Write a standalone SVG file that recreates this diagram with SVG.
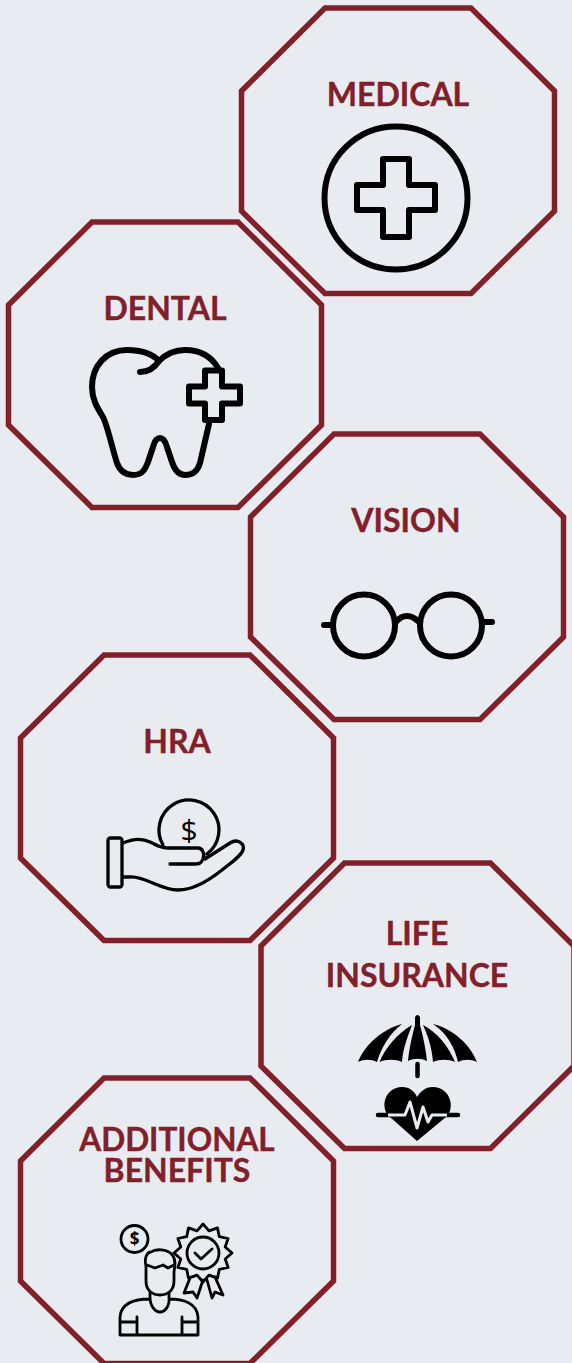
<svg xmlns="http://www.w3.org/2000/svg" width="572" height="1363" viewBox="0 0 572 1363">
<style>
.oct{fill:none;stroke:#82202a;stroke-width:5.500}
.t{font-family:"Lato","Liberation Sans",sans-serif;font-weight:700;font-size:32px;fill:#82202a;stroke:#82202a;stroke-width:.4px;text-anchor:middle}
.d{font-family:"Open Sans","Liberation Sans",sans-serif;fill:#000;text-anchor:middle}
.i{fill:none;stroke:#000;stroke-linecap:round;stroke-linejoin:round}
.f{fill:#000;stroke:none}
</style>
<defs><polygon id="octagon" points="83.5,0 229.500,0 313,83 313,203 229.500,285.500 83.5,285.500 0,203 0,83"/></defs>
<rect width="572" height="1363" fill="#e8ecf1"/>
<g id="medical">
<use href="#octagon" class="oct" x="241.500" y="8"/>
<text class="t" x="398" y="106">MEDICAL</text>
<g class="i" stroke-width="6"><circle cx="396" cy="198" r="71.500"/>
<path d="M383 159H409V185H435V210H409V237H383V210H357V185H383Z"/></g>
</g>
<g id="dental">
<use href="#octagon" class="oct" x="8.500" y="222"/>
<text class="t" x="165" y="320">DENTAL</text>
<g class="i" stroke-width="6">
<path d="M140 372C150 372 155 367 159 361C150 351 137 350 127 350C106 350 92 366 92 387C92 400 98 409 103 417C108 427 112 448 117 463C120 472 127 475 133 475C142 475 145 470 148 462L153 447C155 439 158 438 160 438C163 438 165 440 167 447L172 462C175 471 180 475 185 475C193 475 198 470 200 463L209 424"/>
<path d="M159 361C168 352 177 350 185 350C199 350 211 356 218 368"/>
<path d="M205 370.500H222V386.500H240V403.500H222V420H205V403.500H189V386.500H205Z"/></g>
</g>
<g id="vision">
<use href="#octagon" class="oct" x="250.500" y="434"/>
<text class="t" x="406" y="532">VISION</text>
<g class="i" stroke-width="6"><circle cx="364" cy="625.500" r="31"/><circle cx="451" cy="625.500" r="31"/>
<path d="M324 625H333M482 622H492M396 622C400 617 404 616 407 616C411 616 415 618 419 622"/></g>
</g>
<g id="hra">
<use href="#octagon" class="oct" x="20.500" y="655"/>
<text class="t" x="177" y="753">HRA</text>
<g class="i" stroke-width="3.300"><rect x="108" y="838" width="14" height="49" rx="2.500"/>
<path d="M123 843C132 839 142 838 150 842C158 846 162 848 168 848H198C203 848 205 855 203 859C201 864 198 864 195 864H170M205 859L230 843C238 838 245 844 243 850C241 856 232 862 222 870C212 878 195 890 178 890C160 890 145 876 130 877L123 877"/>
<path d="M163 845A30 30 0 1 1 207 854"/></g>
<text class="d" x="189" y="841" font-size="30">$</text>
</g>
<g id="life-insurance">
<use href="#octagon" class="oct" x="261" y="863"/>
<text class="t" x="417" y="945">LIFE</text>
<text class="t" x="417" y="987">INSURANCE</text>
<path class="f" d="M402 1024C383 1029 365 1044 358 1062C364 1059 371 1059 377 1062C381 1048 390 1033 402 1024ZM412 1025C398 1033 385 1048 379.500 1062C386 1059 396 1059 402 1062C403 1048 408 1036 412 1025ZM415 1017Q417.500 1013 420 1017V1025C423 1036 426 1050 427 1061C421 1058 414 1058 408 1061C409 1050 412 1036 415 1025ZM423 1025C428 1036 432 1048 433 1062C439 1059 449 1059 455 1062C449 1047 437 1032 423 1025ZM433 1024C447 1033 455 1048 458 1062C464 1059 471 1059 477 1062C470 1044 453 1029 433 1024Z"/>
<path class="i" stroke-width="4.500" d="M417.500 1064V1076M378 1115H458"/>
<path class="f" d="M417 1141L390 1117C379 1108 385 1087 402 1087C410 1087 415 1092 417 1097C420 1092 425 1087 433 1087C450 1087 456 1108 446 1117Z"/>
<path fill="none" stroke="#e8ecf1" stroke-width="3" stroke-linejoin="round" d="M388 1115H405L410 1102L417 1128L423 1107L428 1122L432 1115H447"/>
</g>
<g id="additional-benefits">
<use href="#octagon" class="oct" x="20.500" y="1078"/>
<text class="t" x="177" y="1151" style="font-size:31.500px">ADDITIONAL</text>
<text class="t" x="177" y="1182">BENEFITS</text>
<g class="i" stroke-width="2.800"><circle cx="134.500" cy="1239" r="13.500"/>
<path d="M146 1266C144 1258 147 1252 151 1252C155 1249 168 1248 173 1256C176 1260 175 1265 174 1272M147 1265L155 1268L163 1265L168 1268L174 1265M146 1266V1281C146 1291 153 1295 160 1295C167 1295 174 1291 174 1281V1272"/>
<path d="M150 1293V1297C150 1306 155 1312 160 1312C165 1312 170 1306 169 1297V1293M150 1299C135 1299 121 1303 120 1317V1335H198V1317C197 1303 183 1299 169 1299M120 1322H137M137 1317V1335M198 1322H182M182 1317V1335"/>
<polygon points="203,1224 208.950,1230.800 217.500,1227.900 219.300,1236.700 228.100,1238.500 225.200,1247.050 232,1253 225.200,1258.950 228.100,1267.500 219.300,1269.300 217.500,1278.100 208.950,1275.200 203,1282 197.050,1275.200 188.500,1278.100 186.700,1269.300 177.900,1267.500 180.800,1258.950 174,1253 180.800,1247.050 177.900,1238.500 186.700,1236.700 188.500,1227.900 197.050,1230.800"/>
<circle cx="203" cy="1253" r="16"/>
<path d="M195 1253L201 1259L212 1249M190 1278L184 1293L193 1292L197 1298L203 1280M207 1280L212 1298L215 1292L223 1295L215 1277"/></g>
<text class="d" x="134.500" y="1245" font-size="17" font-weight="700">$</text>
</g>
</svg>
